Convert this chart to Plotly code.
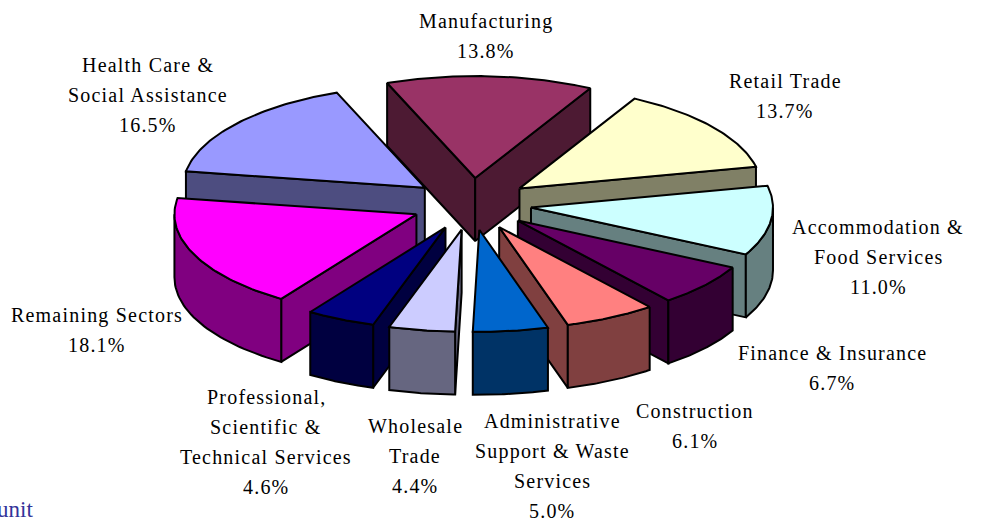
import numpy as np
import plotly.graph_objects as go

sectors = ['Health Care &<br>Social Assistance', 'Manufacturing', 'Retail Trade',
           'Accommodation &<br>Food Services', 'Finance & Insurance', 'Construction',
           'Administrative<br>Support & Waste<br>Services', 'Wholesale<br>Trade',
           'Professional,<br>Scientific &<br>Technical Services', 'Remaining Sectors']
shares = [16.5, 13.8, 13.7, 11.0, 6.7, 6.1, 5.0, 4.4, 4.6, 18.1]
top_colors = ['#9999FF', '#993366', '#FFFFCC', '#CCFFFF', '#660066',
              '#FF8080', '#0066CC', '#CCCCFF', '#000080', '#FF00FF']
side_colors = ['#4D4D80', '#4D1A33', '#808066', '#668080', '#330033',
               '#804040', '#003366', '#666680', '#000040', '#800080']

# pie geometry, in page pixels
CX, CY = 471.5, 204
RX, RY = 242, 102
PULL_X, PULL_Y = 60, 26
DEPTH = 63
START = 279.2

# centre x and first line y of each label, same order as sectors
label_x = [148, 486, 785, 878, 832, 695, 552, 415, 266, 97]
label_y = [65, 21, 81, 227, 353, 411, 421, 426, 397, 315]
LINE_H = 30

# back to front
draw_order = [0, 9, 1, 2, 3, 4, 5, 8, 7, 6]

fig = go.Figure()


def add_poly(xs, ys, color):
    fig.add_trace(go.Scatter(x=xs, y=ys, mode='lines', fill='toself', fillcolor=color,
                             line=dict(color='black', width=2), hoverinfo='skip',
                             showlegend=False))


total = sum(shares)
edges = START + np.concatenate([[0], np.cumsum(shares)]) * 360 / total

for i in draw_order:
    a, b = edges[i], edges[i + 1]
    mid = np.radians((a + b) / 2)
    ox = CX + PULL_X * np.sin(mid)
    oy = CY - PULL_Y * np.cos(mid)

    def pt(deg):
        t = np.radians(deg)
        return ox + RX * np.sin(t), oy - RY * np.cos(t)

    # radial walls that face the viewer
    if np.sin(np.radians(a)) < 0:
        x, y = pt(a)
        add_poly([ox, x, x, ox, ox], [oy, y, y + DEPTH, oy + DEPTH, oy], side_colors[i])
    if np.sin(np.radians(b)) > 0:
        x, y = pt(b)
        add_poly([ox, x, x, ox, ox], [oy, y, y + DEPTH, oy + DEPTH, oy], side_colors[i])

    # front part of the rim
    for turn in (0, 360):
        lo, hi = max(a, 90 + turn), min(b, 270 + turn)
        if hi > lo:
            ax, ay = pt(np.linspace(lo, hi, 40))
            add_poly(list(ax) + list(ax[::-1]) + [ax[0]],
                     list(ay) + list(ay[::-1] + DEPTH) + [ay[0]], side_colors[i])

    # top face
    ax, ay = pt(np.linspace(a, b, 60))
    add_poly([ox] + list(ax) + [ox], [oy] + list(ay) + [oy], top_colors[i])

for i, name in enumerate(sectors):
    lines = name.split('<br>') + [f'{shares[i]:.1f}%']
    for n, line in enumerate(lines):
        fig.add_annotation(x=label_x[i], y=label_y[i] + n * LINE_H,
                           text=f'<span style="letter-spacing:1.2px">{line}</span>',
                           showarrow=False, xanchor='center', yanchor='middle',
                           font=dict(family='Liberation Serif', size=20, color='black'))

fig.add_annotation(x=35, y=509, text='unit', showarrow=False, xanchor='right', yanchor='middle',
                   font=dict(family='Liberation Serif', size=23, color='#333399'))

fig.update_layout(
    width=984, height=519, margin=dict(l=0, r=0, t=0, b=0),
    plot_bgcolor='white', paper_bgcolor='white', showlegend=False,
    xaxis=dict(range=[0, 984], visible=False),
    yaxis=dict(range=[519, 0], visible=False)
)
# the page's default body margin would shift the chart
fig.write_html("out.html", config=dict(displayModeBar=False),
               post_script="document.body.style.margin='0';")
